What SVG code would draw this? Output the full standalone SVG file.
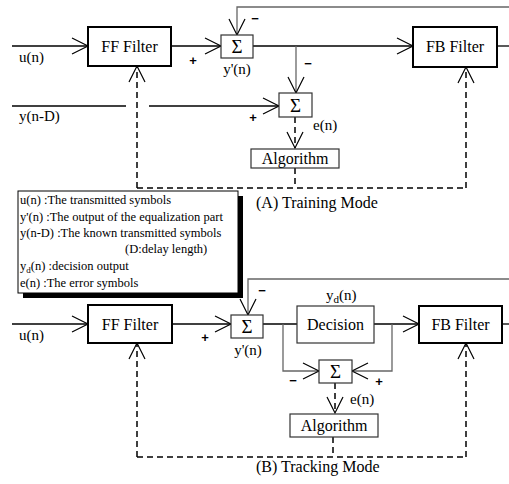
<svg xmlns="http://www.w3.org/2000/svg" width="509" height="484" viewBox="0 0 509 484" font-family="'Liberation Serif', 'DejaVu Serif', 'Times New Roman', serif">
<style>
text{font-family:'Liberation Serif','DejaVu Serif','Times New Roman',serif;fill:#000}
.lbl{font-size:15px}
.box{font-size:16px;text-anchor:middle}
.sig{font-size:19px;text-anchor:middle}
.leg{font-size:12.5px}
text.sgn{font-family:'Liberation Sans',Arial,sans-serif;font-weight:bold;font-size:13px;text-anchor:middle}
.thick{fill:#fff;stroke:#000;stroke-width:2}
.thin{fill:#fff;stroke:#333;stroke-width:1.2}
.ln{fill:none;stroke:#000;stroke-width:1.3}
.gr{fill:none;stroke:#666;stroke-width:1.3}
.da{fill:none;stroke:#000;stroke-width:1.5;stroke-dasharray:6,4}
</style>
<defs>
<marker id="ah" markerUnits="userSpaceOnUse" markerWidth="18" markerHeight="20" refX="16" refY="9" orient="auto" overflow="visible">
<path d="M0,1 L16,9 L0,17" fill="none" stroke="#000" stroke-width="1.2" stroke-dasharray="none"/>
</marker>
</defs>

<g id="connectors">
<path class="ln" d="M12,46 H88" marker-end="url(#ah)"/>
<path class="ln" d="M171,46 H221" marker-end="url(#ah)"/>
<path class="gr" d="M509,7 H237 V35" marker-end="url(#ah)"/>
<path class="ln" d="M253,46 H413" marker-end="url(#ah)"/>
<path class="gr" d="M296,46 V93" marker-end="url(#ah)"/>
<path class="ln" d="M12,106 H126"/>
<path class="ln" d="M149,106 H279" marker-end="url(#ah)"/>
<path class="ln" d="M497,46 H509"/>
<path class="da" d="M295,117 V148" marker-end="url(#ah)"/>
<path class="da" d="M295,168 V188"/>
<path class="da" d="M137,188 H466"/>
<path class="da" d="M137,188 V66" marker-end="url(#ah)"/>
<path class="da" d="M466,188 V67" marker-end="url(#ah)"/>
<path class="ln" d="M12,324 H88" marker-end="url(#ah)"/>
<path class="ln" d="M172,324 H231" marker-end="url(#ah)"/>
<path class="gr" d="M509,279 H248 V315" marker-end="url(#ah)"/>
<path class="ln" d="M263,324 H297"/>
<path class="ln" d="M374,324 H419" marker-end="url(#ah)"/>
<path class="gr" d="M283,324 V371 H319" marker-end="url(#ah)"/>
<path class="gr" d="M392,324 V371 H352" marker-end="url(#ah)"/>
<path class="ln" d="M502,324 H509"/>
<path class="da" d="M335,383 V413" marker-end="url(#ah)"/>
<path class="da" d="M333,437 V457"/>
<path class="da" d="M137,457 H466"/>
<path class="da" d="M137,457 V343" marker-end="url(#ah)"/>
<path class="da" d="M466,457 V343" marker-end="url(#ah)"/>
</g>

<g id="ff-filter-a">
<rect class="thick" x="88" y="27" width="83" height="39"/>
<text class="box" x="129.5" y="52">FF Filter</text>
</g>
<g id="sum1-a">
<rect class="thin" x="221" y="35" width="32" height="23"/>
<text class="sig" x="237" y="53">Σ</text>
</g>
<g id="fb-filter-a">
<rect class="thick" x="413" y="27" width="84" height="40"/>
<text class="box" x="455" y="52">FB Filter</text>
</g>
<g id="sum2-a">
<rect class="thin" x="279" y="93" width="33" height="24"/>
<text class="sig" x="295.5" y="112">Σ</text>
</g>
<g id="algorithm-a">
<rect class="thin" x="251" y="149" width="88" height="19"/>
<text class="box" x="295" y="164">Algorithm</text>
</g>
<g id="labels-a">
<text class="lbl" x="19" y="62">u(n)</text>
<text class="lbl" x="19" y="121">y(n-D)</text>
<text class="lbl" x="237" y="74" text-anchor="middle">y'(n)</text>
<text class="lbl" x="313" y="130">e(n)</text>
<text class="sgn" x="193" y="65">+</text>
<text class="sgn" x="255" y="23">−</text>
<text class="sgn" x="308" y="68">−</text>
<text class="sgn" x="253" y="122">+</text>
<text x="256" y="208" font-size="16">(A) Training Mode</text>
</g>

<g id="legend">
<rect x="23" y="196" width="220" height="102" fill="#000"/>
<rect x="18" y="191" width="220" height="102" fill="#fff" stroke="#000" stroke-width="1"/>
<text class="leg" x="20" y="204">u(n) :The transmitted symbols</text>
<text class="leg" x="20" y="221">y'(n) :The output of the equalization part</text>
<text class="leg" x="20" y="237">y(n-D) :The known transmitted symbols</text>
<text class="leg" x="125" y="253">(D:delay length)</text>
<text class="leg" x="20" y="270">y<tspan font-size="9" dy="3">d</tspan><tspan dy="-3">(n) :decision output</tspan></text>
<text class="leg" x="20" y="287">e(n) :The error symbols</text>
</g>

<g id="ff-filter-b">
<rect class="thick" x="88" y="305" width="84" height="38"/>
<text class="box" x="130" y="330">FF Filter</text>
</g>
<g id="sum1-b">
<rect class="thin" x="231" y="315" width="32" height="23"/>
<text class="sig" x="247" y="333">Σ</text>
</g>
<g id="decision-b">
<rect class="thin" x="297" y="306" width="77" height="37"/>
<text class="box" x="335.5" y="330">Decision</text>
</g>
<g id="fb-filter-b">
<rect class="thick" x="419" y="306" width="83" height="37"/>
<text class="box" x="460.5" y="330">FB Filter</text>
</g>
<g id="sum2-b">
<rect class="thin" x="319" y="360" width="33" height="23"/>
<text class="sig" x="335.5" y="378">Σ</text>
</g>
<g id="algorithm-b">
<rect class="thin" x="290" y="414" width="88" height="23"/>
<text class="box" x="334" y="431">Algorithm</text>
</g>
<g id="labels-b">
<text class="lbl" x="19" y="340">u(n)</text>
<text class="lbl" x="248" y="355" text-anchor="middle">y'(n)</text>
<text class="lbl" x="326" y="300">y<tspan font-size="11" dy="3">d</tspan><tspan dy="-3">(n)</tspan></text>
<text class="lbl" x="350" y="404">e(n)</text>
<text class="sgn" x="205" y="342">+</text>
<text class="sgn" x="262" y="295">−</text>
<text class="sgn" x="293" y="385">−</text>
<text class="sgn" x="379" y="386">+</text>
<text x="256" y="472" font-size="16">(B) Tracking Mode</text>
</g>
</svg>
